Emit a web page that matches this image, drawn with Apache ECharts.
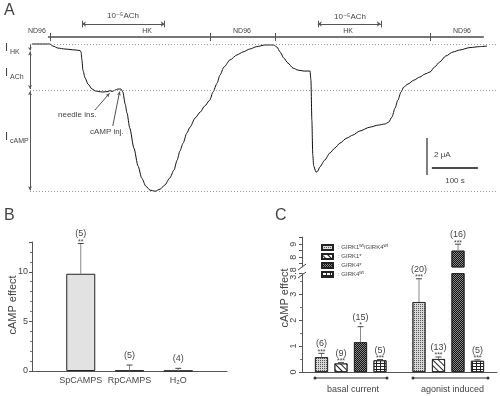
<!DOCTYPE html>
<html lang="en">
<head>
<meta charset="utf-8">
<title>cAMP effect on GIRK currents</title>
<script src="https://cdn.jsdelivr.net/npm/echarts@6/dist/echarts.min.js"></script>
<style>
    html, body { margin: 0; padding: 0; background: #fff; }
    #main { width: 500px; height: 396px; }
</style>
</head>
<body>
<div id="main"></div>
<script type="text/javascript">
    // panel A: oocyte current trace, time in s, current in uA (0 = HK baseline)
    var traceTime = [4, 43, 50, 61, 76, 98, 109, 111, 113, 115,
        120, 126, 135, 143, 157, 170, 174, 178, 185, 191,
        198, 202, 207, 211, 217, 226, 235, 243, 252, 261,
        272, 283, 293, 304, 313, 320, 326, 333, 341, 348,
        359, 370, 380, 391, 398, 407, 413, 422, 435, 450,
        463, 478, 493, 511, 530, 537, 544, 552, 561, 572,
        583, 596, 609, 611, 613, 615, 617, 622, 626, 630,
        641, 652, 663, 674, 689, 702, 717, 739, 757, 772,
        780, 787, 794, 800, 807, 813, 822, 835, 848, 859,
        870, 880, 891, 904, 920, 935, 957, 978, 994];
    var traceCurrent = [0, 0, -0.11, -0.22, -0.27, -0.32, -0.35, -0.43, -0.86, -1.41,
        -1.84, -2.16, -2.43, -2.54, -2.59, -2.57, -2.51, -2.57, -2.49, -2.43,
        -2.43, -2.59, -3.24, -3.73, -4.54, -5.62, -6.59, -7.24, -7.68, -7.89,
        -7.95, -7.84, -7.62, -7.24, -6.81, -6.27, -5.78, -5.35, -4.81, -4.49,
        -4.00, -3.68, -3.35, -3.03, -2.59, -2.11, -1.68, -1.24, -0.86, -0.59,
        -0.43, -0.27, -0.14, -0.05, -0.05, -0.16, -0.43, -0.76, -1.03, -1.30,
        -1.41, -1.46, -1.46, -1.95, -4.11, -6.00, -6.59, -6.92, -6.86, -6.65,
        -6.27, -5.89, -5.62, -5.35, -5.08, -4.92, -4.70, -4.49, -4.38, -4.32,
        -4.22, -3.95, -3.46, -3.03, -2.59, -2.32, -2.16, -1.95, -1.78, -1.62,
        -1.51, -1.24, -0.97, -0.65, -0.43, -0.32, -0.19, -0.14, -0.11];
    var solutionSwitch = [43, 393, 533, 870];
    var achOn = [113, 626];
    var achOff = [293, 763];
    var levelHK = 0, levelACh = -2.49, levelCAMP = -7.95;

    // panel B
    var bCategories = ['SpCAMPS', 'RpCAMPS', 'H₂O'];
    var bMeans = [9.8, 0.05, 0.02];
    var bErrors = [3.05, 0.55, 0.25];
    var bCounts = ['(5)', '(5)', '(4)'];
    var bStars = ['**', '', ''];

    // panel C
    var cGroups = ['basal current', 'agonist induced'];
    var cConstructs = ['GIRK1wt/GIRK4wt', 'GIRK1*', 'GIRK4*', 'GIRK4wt'];
    var cBasal = [0.57, 0.33, 1.15, 0.45];
    var cBasalErr = [0.15, 0.03, 0.6, 0.03];
    var cBasalN = ['(6)', '(9)', '(15)', '(5)'];
    var cBasalStars = ['***', '***', '*', '***'];
    var cAgonist = [2.7, 0.5, 8.5, 0.43];
    var cAgonistErr = [0.9, 0.08, 0.5, 0.04];
    var cAgonistN = ['(20)', '(13)', '(16)', '(5)'];
    var cAgonistStars = ['***', '***', '***', '***'];

    var font = 'Liberation Sans, DejaVu Sans, Arial, sans-serif';
    var ink = '#444';
    var lowMax = 3.8, highMin = 7.25, highMax = 9.55;

    var decals = [
        {symbol: 'rect', symbolSize: 1, color: '#555', dashArrayX: [1, 1], dashArrayY: [1, 1]},
        {symbol: 'rect', symbolSize: 1, color: '#222', dashArrayX: [1, 0], dashArrayY: [1, 3], rotation: Math.PI / 4},
        {symbol: 'rect', symbolSize: 1, color: '#111', dashArrayX: [[1, 1], [0, 1, 1, 0]], dashArrayY: [1, 0]},
        {symbol: 'rect', symbolSize: 1, color: '#222', dashArrayX: [[1, 0], [1, 3]], dashArrayY: [1, 0, 2, 0]}
    ];
    var fills = ['#d8d8d8', '#fff', '#888', '#fff'];
    var legendText = {
        'GIRK1wt/GIRK4wt': ': GIRK1{sup|wt}/GIRK4{sup|wt}',
        'GIRK1*': ': GIRK1*',
        'GIRK4*': ': GIRK4*',
        'GIRK4wt': ': GIRK4{sup|wt}'
    };

    function seg(t1, v1, t2, v2, style, s1, s2, size) {
        return [
            {coord: [t1, v1], symbol: s1 || 'none', symbolSize: size || 4, lineStyle: style},
            {coord: [t2, v2], symbol: s2 || 'none', symbolSize: size || 4, lineStyle: style}
        ];
    }

    var dotted = {type: [1, 2], color: '#999', width: 1};
    var thin = {type: 'solid', color: '#555', width: 1};
    var marks = [
        seg(0, levelHK, 1015, levelHK, dotted),
        seg(0, levelACh, 1015, levelACh, dotted),
        seg(0, levelCAMP, 1015, levelCAMP, dotted),
        seg(39, 0.38, 987, 0.38, {type: 'solid', color: '#777', width: 2}),
        seg(0, -0.04, 0, -0.34, thin, 'none', 'arrow', [3, 3]),
        seg(0, -0.4, 0, -2.43, thin, 'arrow', 'arrow', [3, 4]),
        seg(0, -2.55, 0, -7.9, thin, 'arrow', 'arrow', [3, 4]),
        seg(141, -3.57, 173, -2.66, thin, 'none', 'arrow', [3, 4]),
        seg(180, -4.43, 195, -2.56, thin, 'none', 'arrow', [3, 4]),
        seg(863, -5.08, 863, -7.08, {type: 'solid', color: '#555', width: 1.5}),
        seg(874, -6.7, 974, -6.7, {type: 'solid', color: '#111', width: 1.5})
    ];
    solutionSwitch.forEach(function (s) {
        marks.push(seg(s, 0.16, s, 0.6, thin));
    });
    for (var k = 0; k < achOn.length; k++) {
        marks.push(seg(achOn[k], 1.08, achOff[k], 1.08, thin, 'arrow', 'arrow', [4, 4]));
        marks.push(seg(achOn[k], 0.9, achOn[k], 1.26, thin));
        marks.push(seg(achOff[k], 0.9, achOff[k], 1.26, thin));
    }

    var trace = [];
    for (var i = 0; i < traceTime.length; i++) {
        trace.push([traceTime[i], traceCurrent[i]]);
    }

    function errorSeries(xIdx, yIdx, xs, means, errs, counts, stars) {
        var data = [];
        for (var i = 0; i < xs.length; i++) {
            data.push([xs[i], means[i], errs[i]]);
        }
        return {
            type: 'custom', xAxisIndex: xIdx, yAxisIndex: yIdx, data: data, silent: true, z: 5,
            renderItem: function (params, api) {
                var n = params.dataIndex;
                var x = api.value(0), v = api.value(1), e = api.value(2);
                var p0 = api.coord([x, v]);
                var p1 = api.coord([x, v + e]);
                return {
                    type: 'group',
                    children: [
                        {type: 'line', shape: {x1: p0[0], y1: p0[1], x2: p1[0], y2: p1[1]}, style: {stroke: '#888', lineWidth: 1}},
                        {type: 'line', shape: {x1: p1[0] - 3, y1: p1[1], x2: p1[0] + 3, y2: p1[1]}, style: {stroke: '#444', lineWidth: 1}},
                        {type: 'text', x: p1[0], y: p1[1] - 5, style: {text: counts[n], fontSize: 9, fontFamily: font, fill: ink, align: 'center', verticalAlign: 'bottom'}},
                        {type: 'text', x: p1[0], y: p1[1] + 2, style: {text: stars[n], fontSize: 7, fontFamily: font, fill: ink, align: 'center', verticalAlign: 'bottom'}}
                    ]
                };
            }
        };
    }

    // panel C: x position of each bar, low / high segment of the broken axis
    var cLowX = [], cLowV = [], cLowE = [], cLowN = [], cLowS = [];
    var cHighX = [], cHighV = [], cHighE = [], cHighN = [], cHighS = [];
    var series = [];
    for (var c = 0; c < cConstructs.length; c++) {
        var low = [], high = [];
        var pairs = [[c + 1, cBasal[c], cBasalErr[c], cBasalN[c], cBasalStars[c]],
            [c + 6, cAgonist[c], cAgonistErr[c], cAgonistN[c], cAgonistStars[c]]];
        pairs.forEach(function (p) {
            low.push([p[0], p[1]]);
            if (p[1] > highMin) {
                high.push([p[0], p[1]]);
                cHighX.push(p[0]); cHighV.push(p[1]); cHighE.push(p[2]); cHighN.push(p[3]); cHighS.push(p[4]);
            } else {
                cLowX.push(p[0]); cLowV.push(p[1]); cLowE.push(p[2]); cLowN.push(p[3]); cLowS.push(p[4]);
            }
        });
        var style = {color: fills[c], borderColor: '#222', borderWidth: 0.8, decal: decals[c]};
        series.push({
            name: cConstructs[c], type: 'bar', xAxisIndex: 2, yAxisIndex: 2, data: low,
            barWidth: 13, barGap: '-100%', itemStyle: style, silent: true
        });
        if (high.length) {
            series.push({
                name: cConstructs[c], type: 'bar', xAxisIndex: 3, yAxisIndex: 3, data: high,
                barWidth: 13, barGap: '-100%', itemStyle: style, silent: true
            });
        }
    }
    series.push(errorSeries(2, 2, cLowX, cLowV, cLowE, cLowN, cLowS));
    series.push(errorSeries(3, 3, cHighX, cHighV, cHighE, cHighN, cHighS));

    var bData = [];
    for (var b = 0; b < bCategories.length; b++) {
        bData.push([b + 1, bMeans[b]]);
    }
    series.push({
        type: 'bar', xAxisIndex: 1, yAxisIndex: 1, data: bData, barWidth: 29, silent: true,
        itemStyle: {color: '#e2e2e2', borderColor: '#222', borderWidth: 1}
    });
    series.push(errorSeries(1, 1, [1, 2, 3], bMeans, bErrors, bCounts, bStars));

    series.push({
        type: 'line', xAxisIndex: 0, yAxisIndex: 0, data: trace, showSymbol: false,
        smooth: 0.25, smoothMonotone: 'x', lineStyle: {color: '#111', width: 1}, silent: true,
        markLine: {silent: true, animation: false, label: {show: false}, data: marks}
    });

    function txt(x, y, s, size, extra) {
        var st = {text: s, fontSize: size, fontFamily: font, fill: ink, align: 'left', verticalAlign: 'middle'};
        for (var key in (extra || {})) st[key] = extra[key];
        return {type: 'text', x: x, y: y, style: st, silent: true};
    }

    var graphics = [
        txt(4, 11, 'A', 16),
        txt(4, 216, 'B', 16),
        txt(275, 216, 'C', 16),
        txt(28, 31, 'ND96', 7),
        txt(147, 31, 'HK', 7, {align: 'center'}),
        txt(242, 31, 'ND96', 7, {align: 'center'}),
        txt(348, 31, 'HK', 7, {align: 'center'}),
        txt(462, 31, 'ND96', 7, {align: 'center'}),
        txt(123, 16, '10⁻⁵ACh', 8, {align: 'center'}),
        txt(350, 17, '10⁻⁵ACh', 8, {align: 'center'}),
        txt(5, 48, 'I', 11), txt(10, 52, 'HK', 7),
        txt(5, 73, 'I', 11), txt(10, 77, 'ACh', 7),
        txt(5, 137, 'I', 11), txt(10, 141, 'cAMP', 7),
        txt(58, 115, 'needle ins.', 8),
        txt(90, 132, 'cAMP inj.', 8),
        txt(434, 155, '2 μA', 8),
        txt(455, 181, '100 s', 8, {align: 'center'}),
        {type: 'text', x: 13, y: 305, rotation: Math.PI / 2, silent: true,
            style: {text: 'cAMP effect', fontSize: 11, fontFamily: font, fill: ink, align: 'center', verticalAlign: 'middle'}},
        {type: 'text', x: 285, y: 298, rotation: Math.PI / 2, silent: true,
            style: {text: 'cAMP effect', fontSize: 11, fontFamily: font, fill: ink, align: 'center', verticalAlign: 'middle'}},
        {type: 'line', shape: {x1: 298, y1: 270, x2: 306, y2: 264}, style: {stroke: '#444', lineWidth: 1}, silent: true},
        {type: 'line', shape: {x1: 298, y1: 278, x2: 306, y2: 272}, style: {stroke: '#444', lineWidth: 1}, silent: true}
    ];
    var brackets = [[315, 387], [413, 488]];
    brackets.forEach(function (br, g) {
        graphics.push({type: 'line', shape: {x1: br[0], y1: 378, x2: br[1], y2: 378}, style: {stroke: '#333', lineWidth: 1}, silent: true});
        graphics.push({type: 'circle', shape: {cx: br[0], cy: 378, r: 1.5}, style: {fill: '#333'}, silent: true});
        graphics.push({type: 'circle', shape: {cx: br[1], cy: 378, r: 1.5}, style: {fill: '#333'}, silent: true});
        graphics.push(txt((br[0] + br[1]) / 2 + 2, 390, cGroups[g], 9, {align: 'center'}));
    });

    var axisLine = {show: true, lineStyle: {color: '#555', width: 1}};
    var hidden = {show: false};

    var chart = echarts.init(document.getElementById('main'));
    chart.setOption({
        animation: false,
        backgroundColor: '#fff',
        textStyle: {fontFamily: font},
        grid: [
            {left: 30, top: 7, width: 469, height: 187},
            {left: 32, top: 242, width: 195, height: 129},
            {left: 302, top: 273.6, width: 195, height: 98.4},
            {left: 302, top: 237, width: 195, height: 30}
        ],
        xAxis: [
            {gridIndex: 0, type: 'value', min: 0, max: 1020, show: false},
            {gridIndex: 1, type: 'value', min: 0, max: 4, interval: 1, splitLine: hidden, axisLine: axisLine,
                axisTick: hidden,
                axisLabel: {show: true, margin: 5, fontSize: 9, color: ink, fontFamily: font,
                    formatter: function (v) { return bCategories[v - 1] || ''; }}},
            {gridIndex: 2, type: 'value', min: 0, max: 10, splitLine: hidden, axisLine: axisLine,
                axisTick: hidden, axisLabel: hidden},
            {gridIndex: 3, type: 'value', min: 0, max: 10, show: false}
        ],
        yAxis: [
            {gridIndex: 0, type: 'value', min: -8.1, max: 2, show: false},
            {gridIndex: 1, type: 'value', min: 0, max: 13, interval: 5, splitLine: hidden, axisLine: axisLine,
                axisTick: {show: true, length: 3, lineStyle: {color: '#555'}},
                minorTick: {show: true, splitNumber: 5, length: 2, lineStyle: {color: '#777'}},
                axisLabel: {fontSize: 9, color: ink, margin: 4, fontFamily: font, customValues: [0, 5, 10]}},
            {gridIndex: 2, type: 'value', min: 0, max: lowMax, interval: 1, splitLine: hidden, axisLine: axisLine,
                axisTick: {show: true, length: 3, lineStyle: {color: '#555'}},
                minorTick: {show: true, splitNumber: 2, length: 2, lineStyle: {color: '#777'}},
                axisLabel: {fontSize: 9, color: ink, margin: 4, rotate: 90, fontFamily: font}},
            {gridIndex: 3, type: 'value', min: highMin, max: highMax, splitLine: hidden, axisLine: axisLine,
                axisTick: {show: true, length: 3, customValues: [7.5, 8, 8.5, 9, 9.5], lineStyle: {color: '#555'}},
                axisLabel: {fontSize: 9, color: ink, margin: 4, rotate: 90, customValues: [8, 9], fontFamily: font}}
        ],
        legend: {
            data: cConstructs, orient: 'vertical', left: 316, top: 238, itemWidth: 11, itemHeight: 5, itemGap: 0,
            icon: 'rect', selectedMode: false,
            formatter: function (name) { return legendText[name]; },
            textStyle: {fontSize: 6, color: ink, fontFamily: font, lineHeight: 9,
                rich: {sup: {fontSize: 4.5, lineHeight: 5, verticalAlign: 'top', color: ink}}}
        },
        graphic: graphics,
        series: series
    });
</script>
</body>
</html>
